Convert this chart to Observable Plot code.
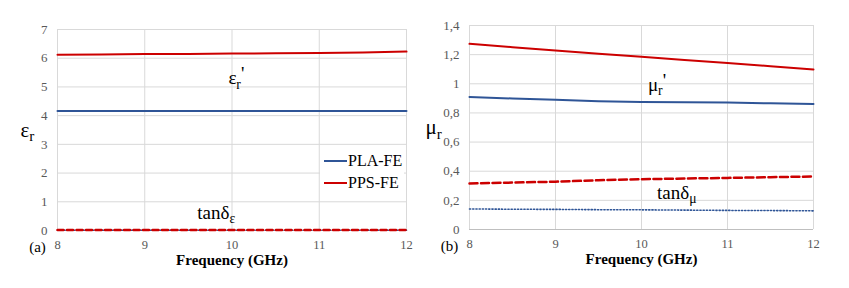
<!DOCTYPE html>
<html>
<head>
<meta charset="utf-8">
<script src="https://cdn.jsdelivr.net/npm/d3@7"></script>
<script src="https://cdn.jsdelivr.net/npm/@observablehq/plot@0.6"></script>
<style>
  html, body { margin: 0; padding: 0; background: #fff; }
  #wrap { position: relative; width: 849px; height: 288px; display: flex; font-family: "Liberation Serif", "DejaVu Serif", serif; }
  #wrap svg text { font-family: "Liberation Serif", "DejaVu Serif", serif; }
  #legend { position: absolute; left: 320px; top: 148px; width: 84px; height: 46px; background: #fff; font-size: 16px; color: #000; }
  #legend .item { position: absolute; left: 4px; display: flex; align-items: center; height: 18px; }
  #legend svg { display: block; margin-right: 1px; }
</style>
</head>
<body>
<div id="wrap"><div id="legend"></div></div>
<script>
// ---- data ----
const freq = [8, 8.5, 9, 9.5, 10, 10.5, 11, 11.5, 12];
const series = ["PLA-FE", "PPS-FE"];
const colors = ["#2f5597", "#cc0000"];
// (a) permittivity
const plaEps = [4.16, 4.16, 4.16, 4.16, 4.16, 4.16, 4.16, 4.16, 4.16];
const ppsEps = [6.12, 6.13, 6.15, 6.15, 6.16, 6.17, 6.18, 6.20, 6.23];
const plaTanE = [0.01, 0.01, 0.01, 0.01, 0.01, 0.01, 0.01, 0.01, 0.01];
const ppsTanE = [0.02, 0.02, 0.02, 0.02, 0.02, 0.02, 0.02, 0.02, 0.02];
// (b) permeability
const plaMu = [0.910, 0.899, 0.890, 0.881, 0.875, 0.873, 0.871, 0.866, 0.862];
const ppsMu = [1.274, 1.251, 1.228, 1.206, 1.185, 1.164, 1.143, 1.121, 1.098];
const plaTanM = [0.141, 0.139, 0.138, 0.136, 0.135, 0.133, 0.131, 0.130, 0.128];
const ppsTanM = [0.316, 0.322, 0.328, 0.338, 0.345, 0.350, 0.354, 0.359, 0.364];
// ticks and labels
const xTicks = [8, 9, 10, 11, 12];
const yTicksA = [0, 1, 2, 3, 4, 5, 6, 7];
const yTicksB = [0, 0.2, 0.4, 0.6, 0.8, 1.0, 1.2, 1.4];
const xLabel = "Frequency (GHz)";
const panelTags = ["(a)", "(b)"];
const yLabels = ["ε_r", "μ_r"];
const annotA = [{x: 10.05, y: 5.3, t: "ε_r_'"}, {x: 9.82, y: 0.6, t: "tanδ_ε"}];
const annotB = [{x: 10.18, y: 0.99, t: "μ_r_'"}, {x: 10.41, y: 0.25, t: "tanδ_μ"}];

function rows(vals) { return freq.map((f, i) => ({f, v: vals[i]})); }

const serif = "Liberation Serif, DejaVu Serif, serif";
const tickColor = "#595959";
const gridColor = "#d9d9d9";

function panel({width, ml, mr, mt, mb, yDomain, yTicks, yFmt, lines, annots, yLabel, tag, yLabelDx}) {
  const marks = [
    Plot.gridX(xTicks, {stroke: gridColor, strokeOpacity: 1}),
    Plot.gridY(yTicks, {stroke: gridColor, strokeOpacity: 1}),
    Plot.ruleY([yDomain[0]], {stroke: "#bfbfbf", strokeWidth: 1}),
    Plot.axisX(xTicks, {tickSize: 0, tickPadding: 10, fontSize: 12.5, fill: tickColor, label: null}),
    Plot.axisY(yTicks, {tickSize: 0, tickPadding: 10, fontSize: 13, fill: tickColor, label: null, tickFormat: yFmt}),
    ...lines.map(l => Plot.line(rows(l.vals), {x: "f", y: "v", stroke: l.color, strokeWidth: l.w, strokeDasharray: l.dash, curve: "linear"})),
    Plot.text(annots, {x: "x", y: "y", text: "t", fontSize: 19, fill: "#000", fontFamily: serif, textAnchor: "middle"}),
    Plot.text([xLabel], {frameAnchor: "bottom", lineAnchor: "middle", dy: 29.5, fontSize: 15, fontWeight: "bold", fill: "#000", fontFamily: serif}),
    Plot.text([tag], {frameAnchor: "bottom-left", lineAnchor: "middle", dx: -20, dy: 17, fontSize: 15, fill: "#000", fontFamily: serif, textAnchor: "middle"}),
    Plot.text([yLabel], {frameAnchor: "left", dx: yLabelDx, fontSize: 21, fill: "#000", fontFamily: serif, textAnchor: "start"})
  ];
  const svg = Plot.plot({
    width, height: 288,
    marginLeft: ml, marginRight: mr, marginTop: mt, marginBottom: mb,
    style: {fontFamily: serif, background: "#fff"},
    x: {domain: [8, 12]},
    y: {domain: yDomain},
    marks
  });
  // subscripts: "a_b_c" -> a, subscript b, c
  d3.select(svg).selectAll("text").each(function() {
    const el = d3.select(this);
    if (el.selectAll("tspan").size() > 0) return;
    const s = this.textContent;
    if (!s.includes("_")) return;
    const parts = s.split("_");
    el.text(null);
    el.append("tspan").text(parts[0]);
    el.append("tspan").attr("dy", "0.3em").attr("font-size", "0.72em").text(parts[1]);
    if (parts[2]) el.append("tspan").attr("dy", "-0.45em").text(parts[2]);
  });
  return svg;
}

const fmtB = d => d3.format("~f")(+d.toFixed(1)).replace(".", ",");

const svgA = panel({
  width: 424, ml: 57, mr: 18, mt: 29, mb: 58,
  yDomain: [0, 7], yTicks: yTicksA, yFmt: d => String(d),
  lines: [
    {vals: plaEps, color: colors[0], w: 2},
    {vals: ppsEps, color: colors[1], w: 2},
    {vals: plaTanE, color: colors[0], w: 1.6, dash: "1.2,2"},
    {vals: ppsTanE, color: colors[1], w: 2.5, dash: "6,3.5"}
  ],
  annots: annotA, yLabel: yLabels[0], tag: panelTags[0], yLabelDx: -37
});
const svgB = panel({
  width: 425, ml: 45, mr: 36, mt: 25, mb: 59,
  yDomain: [0, 1.4], yTicks: yTicksB, yFmt: fmtB,
  lines: [
    {vals: plaMu, color: colors[0], w: 2},
    {vals: ppsMu, color: colors[1], w: 2},
    {vals: plaTanM, color: colors[0], w: 1.6, dash: "1.2,2"},
    {vals: ppsTanM, color: colors[1], w: 2.5, dash: "8,3.5"}
  ],
  annots: annotB, yLabel: yLabels[1], tag: panelTags[1], yLabelDx: -44
});

const wrap = document.getElementById("wrap");
wrap.insertBefore(svgA, wrap.firstChild);
wrap.insertBefore(svgB, document.getElementById("legend"));

// legend
const leg = d3.select("#legend");
series.forEach((s, i) => {
  const it = leg.append("div").attr("class", "item").style("top", (4 + i * 22) + "px");
  const sv = it.append("svg").attr("width", 23).attr("height", 4);
  sv.append("line").attr("x1", 0).attr("x2", 23).attr("y1", 2).attr("y2", 2).attr("stroke", colors[i]).attr("stroke-width", 2);
  it.append("span").text(s);
});
</script>
</body>
</html>
